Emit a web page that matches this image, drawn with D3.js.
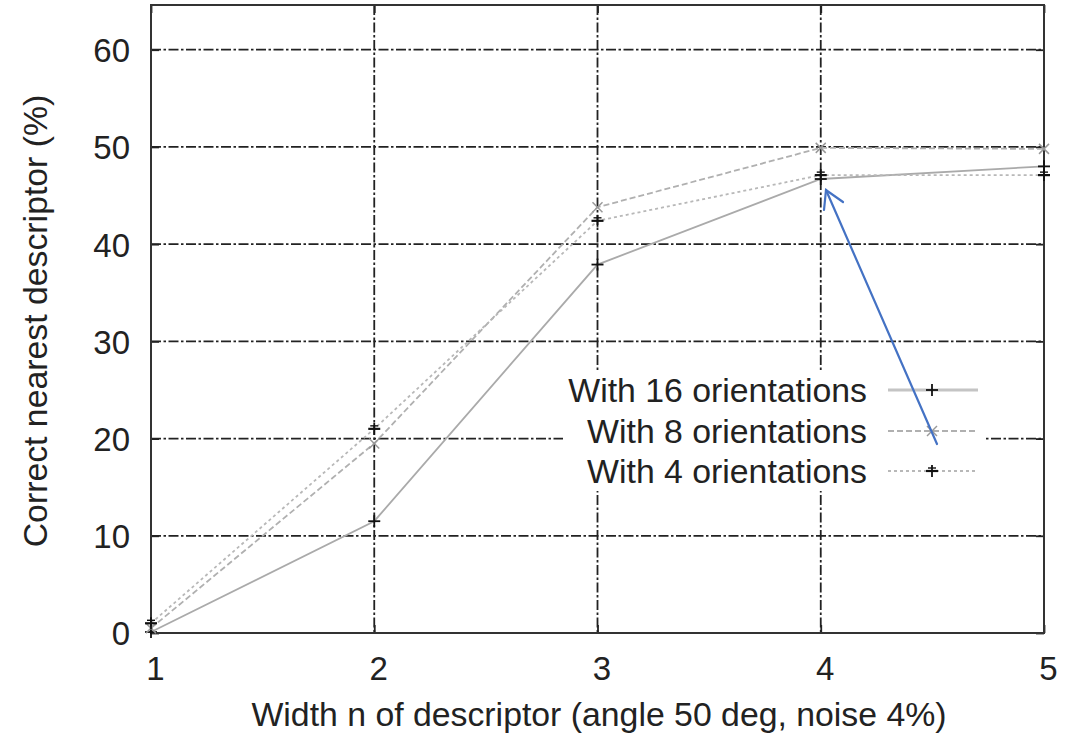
<!DOCTYPE html>
<html><head><meta charset="utf-8">
<script src="https://cdn.jsdelivr.net/npm/d3@7"></script>
<style>body{margin:0;background:#fff}svg{display:block}text{font-family:"Liberation Sans",Arial,sans-serif;fill:#222}</style>
</head><body><svg id="c" width="1066" height="738"></svg>
<script>
const widths = [1, 2, 3, 4, 5];
const xTicks = [1, 2, 3, 4, 5];
const yTicks = [0, 10, 20, 30, 40, 50, 60];
const seriesNames = ["With 16 orientations", "With 8 orientations", "With 4 orientations"];
const o16 = [0.1, 11.5, 37.9, 46.7, 48.0];
const o8 = [0.5, 19.5, 43.8, 49.9, 49.8];
const o4 = [1.0, 21.0, 42.4, 47.1, 47.1];
const xLabel = "Width n of descriptor (angle 50 deg, noise 4%)";
const yLabel = "Correct nearest descriptor (%)";

const FS = 33, FT = 33.8;
const svg = d3.select("#c");
const L = 151, R = 1044, T = 5, B = 633;
const x = d3.scaleLinear().domain([1, 5]).range([L, R]);
const y = d3.scaleLinear().domain([0, 64.6]).range([B, T]);

// grid
const g = svg.append("g");
const gridDash = "10,2.5,2.5,2.5";
g.selectAll(".gy").data(yTicks.filter(d => d > 0)).enter().append("line")
  .attr("x1", L).attr("x2", R).attr("y1", d => y(d)).attr("y2", d => y(d))
  .attr("stroke", "#222").attr("stroke-width", 1.8).attr("stroke-dasharray", gridDash);
g.selectAll(".gx").data(xTicks.filter(d => d > 1 && d < 5)).enter().append("line")
  .attr("y1", T).attr("y2", B).attr("x1", d => x(d)).attr("x2", d => x(d))
  .attr("stroke", "#222").attr("stroke-width", 1.8).attr("stroke-dasharray", gridDash);

// legend background (covers grid)
svg.append("rect").attr("x", 563).attr("y", 371).attr("width", 422).attr("height", 120).attr("fill", "#fff");

// axes with d3 axis, ticks inward
const xa = svg.append("g").attr("transform", `translate(0,${B})`)
  .call(d3.axisBottom(x).tickValues(xTicks).tickSize(-8).tickPadding(24).tickFormat(d3.format("d")));
const xat = svg.append("g").attr("transform", `translate(0,${T})`)
  .call(d3.axisTop(x).tickValues(xTicks).tickSize(-8).tickFormat(""));
const ya = svg.append("g").attr("transform", `translate(${L},0)`)
  .call(d3.axisLeft(y).tickValues(yTicks).tickSize(-8).tickPadding(21).tickFormat(d3.format("d")));
const yar = svg.append("g").attr("transform", `translate(${R},0)`)
  .call(d3.axisRight(y).tickValues(yTicks).tickSize(-8).tickFormat(""));
[xa, xat, ya, yar].forEach(a => {
  a.select(".domain").remove();
  a.selectAll("line").attr("stroke", "#222").attr("stroke-width", 1.8);
  a.selectAll("text").attr("font-size", FS).attr("fill", "#222").style("font-family", '"Liberation Sans",Arial,sans-serif');
});
xa.selectAll("text").attr("dy", "0.71em").attr("dx", 4);
ya.selectAll("text").attr("dy", "0.36em");

// frame
svg.append("rect").attr("x", L).attr("y", T).attr("width", R - L).attr("height", B - T)
  .attr("fill", "none").attr("stroke", "#333").attr("stroke-width", 2);

// series
const series = [
  {name: seriesNames[0], vals: o16, color: "#aaaaaa", dash: null, marker: "plus", mcolor: "#111"},
  {name: seriesNames[1], vals: o8, color: "#b0b0b0", dash: "6,3", marker: "cross", mcolor: "#999"},
  {name: seriesNames[2], vals: o4, color: "#b8b8b8", dash: "3,3", marker: "star", mcolor: "#111"}
];
const line = d3.line().x(d => x(d[0])).y(d => y(d[1]));
function marker(sel, type, cx, cy, color) {
  const s = 6;
  const gg = sel.append("g").attr("transform", `translate(${cx},${cy})`).attr("stroke", color).attr("stroke-width", 1.8);
  if (type === "plus") {
    gg.append("line").attr("x1", -s).attr("x2", s).attr("y1", 0).attr("y2", 0);
    gg.append("line").attr("y1", -s).attr("y2", s).attr("x1", 0).attr("x2", 0);
  }
  if (type === "star") {
    gg.append("line").attr("x1", -s).attr("x2", s).attr("y1", 0).attr("y2", 0).attr("stroke-width", 2.2);
    gg.append("line").attr("y1", -s).attr("y2", s).attr("x1", 0).attr("x2", 0);
    gg.append("line").attr("x1", -4).attr("x2", 4).attr("y1", -3).attr("y2", -3).attr("stroke-width", 1.4);
  }
  if (type === "cross") {
    const k = 5;
    gg.append("line").attr("x1", -k).attr("x2", k).attr("y1", -k).attr("y2", k).attr("stroke-width", 1.5);
    gg.append("line").attr("x1", -k).attr("x2", k).attr("y1", k).attr("y2", -k).attr("stroke-width", 1.5);
  }
}
series.forEach(s => {
  const pts = widths.map((w, i) => [w, s.vals[i]]);
  svg.append("path").attr("d", line(pts)).attr("fill", "none")
    .attr("stroke", s.color).attr("stroke-width", 1.8).attr("stroke-dasharray", s.dash);
  pts.forEach(p => marker(svg, s.marker, x(p[0]), y(p[1]), s.mcolor));
});

// legend
const legY = [390, 431, 471];
series.forEach((s, i) => {
  svg.append("text").attr("x", 867).attr("y", legY[i]).attr("dy", "0.36em")
    .attr("text-anchor", "end").attr("font-size", FT).text(s.name);
  svg.append("line").attr("x1", 888).attr("x2", 978).attr("y1", legY[i]).attr("y2", legY[i])
    .attr("stroke", i === 0 ? "#c4c4c4" : s.color).attr("stroke-width", i === 0 ? 3 : 1.8).attr("stroke-dasharray", s.dash);
  marker(svg, s.marker, 932, legY[i], s.mcolor);
});

// axis titles
svg.append("text").attr("x", 599).attr("y", 726).attr("text-anchor", "middle")
  .attr("font-size", FT).text(xLabel);
svg.append("text").attr("transform", "translate(47,321) rotate(-90)")
  .attr("text-anchor", "middle").attr("font-size", FT).text(yLabel);

// annotation arrow
const ann = svg.append("g").attr("stroke", "#4472c4").attr("stroke-width", 2.2).attr("fill", "none").attr("stroke-linecap", "round");
ann.append("line").attr("x1", 937).attr("y1", 444).attr("x2", 826).attr("y2", 190);
ann.append("polyline").attr("points", "824,210 826,190 843,202");
</script></body></html>
